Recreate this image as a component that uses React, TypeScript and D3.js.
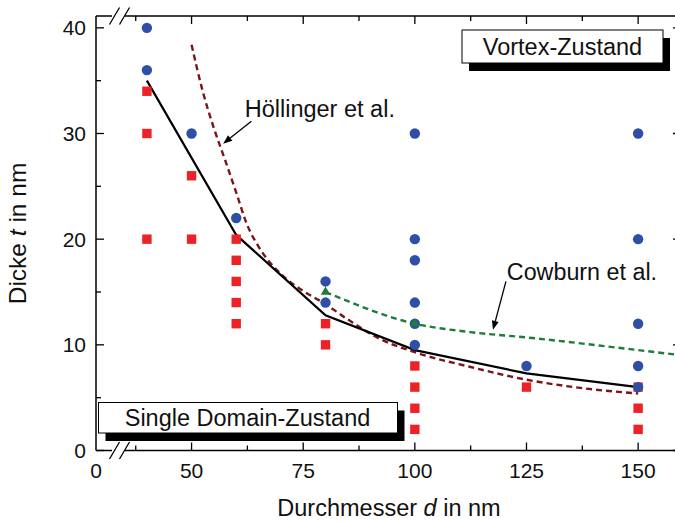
import React from "react";
import * as d3 from "d3";

// Vortex state measurements: [diameter nm, thickness nm]
const vortexPoints: [number, number][] = [
  [40, 40], [40, 36],
  [50, 30],
  [60, 22],
  [80, 16], [80, 14],
  [100, 30], [100, 20], [100, 18], [100, 14], [100, 12], [100, 10],
  [125, 8],
  [150, 30], [150, 20], [150, 12], [150, 8], [150, 6],
];

// Single domain state measurements
const singleDomainPoints: [number, number][] = [
  [40, 34], [40, 30], [40, 20],
  [50, 26], [50, 20],
  [60, 20], [60, 18], [60, 16], [60, 14], [60, 12],
  [80, 12], [80, 10],
  [100, 8], [100, 6], [100, 4], [100, 2],
  [125, 6],
  [150, 6], [150, 4], [150, 2],
];

// Phase boundary from the measurements
const boundaryLine: [number, number][] = [
  [40, 35], [60, 20.4], [80, 12.8], [100, 9.5], [125, 7.3], [150, 6.0],
];

// Hoellinger et al. model curve
const hoellingerCurve: [number, number][] = [
  [50, 38.4], [52.5, 34], [55, 30.5], [57.5, 27.5], [60, 24.4], [62.5, 21.3],
  [65, 19.3], [70, 16.7], [75, 15.1], [80, 13.85], [85, 12.4], [92, 10.6],
  [100, 9.3], [112.5, 7.9], [125, 6.7], [137.5, 5.9], [150, 5.4],
];

// Cowburn et al. model curve
const cowburnCurve: [number, number][] = [
  [80, 15], [100, 12], [112.5, 11.2], [125, 10.7], [150, 9.5], [160, 9.0],
];
const cowburnMarkers: [number, number][] = [[80, 15], [100, 12]];

const xMajorTicks = [50, 75, 100, 125, 150];
const xMinorTicks = [37.5, 62.5, 87.5, 112.5, 137.5];
const xBreakLabel = "0";
const yMajorTicks = [0, 10, 20, 30, 40];
const yMinorTicks = [5, 15, 25, 35];

const W = 675;
const H = 522;
const left = 96;
const right = 681;
const top = 16;
const bottom = 450.5;
const gapStart = 112;
const gapEnd = 125;

const FONT = "'Liberation Sans', Arial, Helvetica, sans-serif";

const BLUE = "#2f4fa6";
const RED = "#ec2227";
const GREEN = "#1d7d3a";
const DARKRED = "#7a1519";

export default function App() {
  const x = d3.scaleLinear().domain([28.6, 159.6]).range([left, right]);
  const y = d3.scaleLinear().domain([0, 41.12]).range([bottom, top]);

  const straight = d3.line<[number, number]>().x((d) => x(d[0])).y((d) => y(d[1]));
  const smooth = d3
    .line<[number, number]>()
    .x((d) => x(d[0]))
    .y((d) => y(d[1]))
    .curve(d3.curveMonotoneX);

  const tri = d3.symbol(d3.symbolTriangle, 40)() as string;

  const axisStroke = { stroke: "#000", strokeWidth: 1.5, fill: "none" };

  const arrow = (x1: number, y1: number, x2: number, y2: number) => {
    const ang = Math.atan2(y2 - y1, x2 - x1);
    const len = 9;
    const wid = 3.5;
    const bx = x2 - len * Math.cos(ang);
    const by = y2 - len * Math.sin(ang);
    const px = -Math.sin(ang) * wid;
    const py = Math.cos(ang) * wid;
    return (
      <g>
        <line x1={x1} y1={y1} x2={bx} y2={by} stroke="#000" strokeWidth={1.3} />
        <polygon
          points={`${x2},${y2} ${bx + px},${by + py} ${bx - px},${by - py}`}
          fill="#000"
        />
      </g>
    );
  };

  const slashes = (yy: number) => (
    <g stroke="#000" strokeWidth={1.3}>
      <line x1={109.5} y1={yy + 8.5} x2={119.5} y2={yy - 8.5} />
      <line x1={119.5} y1={yy + 8.5} x2={129.5} y2={yy - 8.5} />
    </g>
  );

  return (
    <svg
      width={W}
      height={H}
      viewBox={`0 0 ${W} ${H}`}
      style={{ position: "absolute", left: 0, top: 0, background: "#fff" }}
      fontFamily={FONT}
    >
      <rect x={0} y={0} width={W} height={H} fill="#fff" />
      <defs>
        <clipPath id="plotClip">
          <rect x={left} y={top} width={right - left} height={bottom - top} />
        </clipPath>
      </defs>

      {/* curves */}
      <g clipPath="url(#plotClip)">
        <path d={smooth(hoellingerCurve) || ""} stroke={DARKRED} strokeWidth={2.4} strokeDasharray="6 4" fill="none" />
        <path d={smooth(cowburnCurve) || ""} stroke={GREEN} strokeWidth={2.4} strokeDasharray="6 4" fill="none" />
        <path d={straight(boundaryLine) || ""} stroke="#000" strokeWidth={2.2} fill="none" />
      </g>

      {/* single domain squares */}
      {singleDomainPoints.map((d, i) => (
        <rect key={"s" + i} x={x(d[0]) - 4.7} y={y(d[1]) - 4.7} width={9.4} height={9.4} fill={RED} />
      ))}

      {/* vortex circles */}
      {vortexPoints.map((d, i) => (
        <circle key={"v" + i} cx={x(d[0])} cy={y(d[1])} r={5.2} fill={BLUE} />
      ))}

      {/* Cowburn markers */}
      {cowburnMarkers.map((d, i) => (
        <path key={"c" + i} d={tri} transform={`translate(${x(d[0])},${y(d[1])})`} fill={GREEN} />
      ))}

      {/* frame */}
      <line x1={left} y1={top} x2={left} y2={bottom} {...axisStroke} />
      <line x1={right} y1={top} x2={right} y2={bottom} {...axisStroke} />
      <line x1={left} y1={bottom} x2={gapStart} y2={bottom} {...axisStroke} />
      <line x1={gapEnd} y1={bottom} x2={right} y2={bottom} {...axisStroke} />
      <line x1={left} y1={top} x2={gapStart} y2={top} {...axisStroke} />
      <line x1={gapEnd} y1={top} x2={right} y2={top} {...axisStroke} />
      {slashes(bottom)}
      {slashes(top)}

      {/* ticks */}
      <g stroke="#000" strokeWidth={1.3}>
        {xMajorTicks.map((t) => (
          <g key={"xm" + t}>
            <line x1={x(t)} x2={x(t)} y1={bottom} y2={bottom - 8} />
            <line x1={x(t)} x2={x(t)} y1={top} y2={top + 8} />
          </g>
        ))}
        {xMinorTicks.map((t) => (
          <g key={"xn" + t}>
            <line x1={x(t)} x2={x(t)} y1={bottom} y2={bottom - 5} />
            <line x1={x(t)} x2={x(t)} y1={top} y2={top + 5} />
          </g>
        ))}
        {yMajorTicks.map((t) => (
          <g key={"ym" + t}>
            <line x1={left} x2={left + 8} y1={y(t)} y2={y(t)} />
            <line x1={right} x2={right - 8} y1={y(t)} y2={y(t)} />
          </g>
        ))}
        {yMinorTicks.map((t) => (
          <g key={"yn" + t}>
            <line x1={left} x2={left + 5} y1={y(t)} y2={y(t)} />
            <line x1={right} x2={right - 5} y1={y(t)} y2={y(t)} />
          </g>
        ))}
      </g>

      {/* tick labels */}
      <g fontSize={21} fill="#111">
        <text x={left} y={478} textAnchor="middle">{xBreakLabel}</text>
        {xMajorTicks.map((t) => (
          <text key={"xl" + t} x={x(t)} y={478} textAnchor="middle">{t}</text>
        ))}
        {yMajorTicks.map((t) => (
          <text key={"yl" + t} x={86} y={y(t) + 7.5} textAnchor="end">{t}</text>
        ))}
      </g>

      {/* axis titles */}
      <text x={389} y={516} textAnchor="middle" fontSize={23.5} fill="#111">
        Durchmesser <tspan fontStyle="italic">d</tspan> in nm
      </text>
      <text
        transform={`translate(26,233.5) rotate(-90)`}
        textAnchor="middle"
        fontSize={24.5}
        fill="#111"
      >
        Dicke <tspan fontStyle="italic">t</tspan> in nm
      </text>

      {/* state boxes */}
      <rect x={469} y={38} width={201} height={33} fill="#000" />
      <rect x={462} y={30} width={201} height={33} fill="#fff" stroke="#000" strokeWidth={1} />
      <text x={562.5} y={55} textAnchor="middle" fontSize={23.5} fill="#111">Vortex-Zustand</text>

      <rect x={105.5} y={410.5} width={299} height={30.5} fill="#000" />
      <rect x={98.5} y={402.5} width={299} height={30.5} fill="#fff" stroke="#000" strokeWidth={1} />
      <text x={247.5} y={426} textAnchor="middle" fontSize={23.5} fill="#111">Single Domain-Zustand</text>

      {/* model annotations */}
      <text x={x(61.9)} y={y(31.56)} fontSize={23.5} fill="#111">Höllinger et al.</text>
      {arrow(x(63.4), y(31.15), x(57.07), y(29.04))}
      <text x={x(120.6)} y={y(16.15)} fontSize={23.3} fill="#111">Cowburn et al.</text>
      {arrow(x(120.4), y(16.0), x(117.5), y(11.42))}
    </svg>
  );
}
